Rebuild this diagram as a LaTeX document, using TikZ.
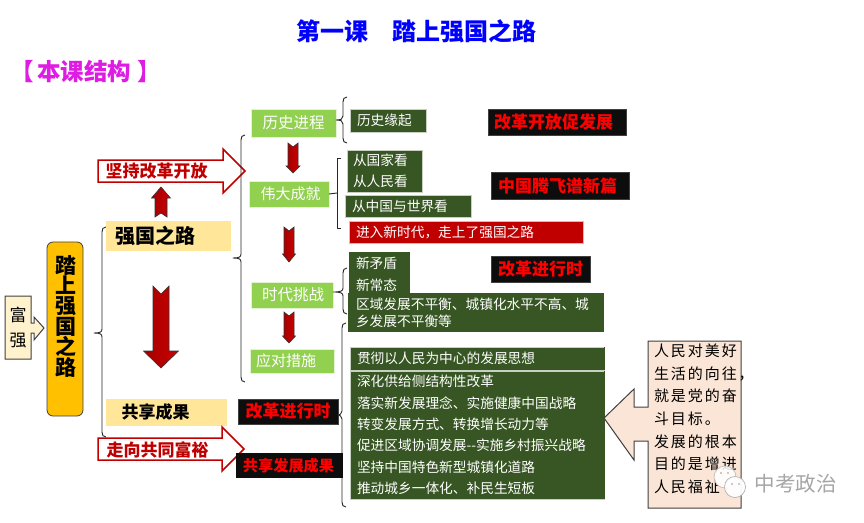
\documentclass[tikz,border=0pt]{standalone}
\usepackage{fontspec}
\setmainfont{Noto Sans CJK SC}
\definecolor{dkgreen}{HTML}{375623}
\definecolor{ltgreen}{HTML}{92D050}
\definecolor{sand}{HTML}{FFE699}
\definecolor{cream}{HTML}{FFF2CC}
\definecolor{gold}{HTML}{FFC000}
\definecolor{crimson}{HTML}{C00000}
\definecolor{peach}{HTML}{FBE5D6}
\definecolor{nearblack}{HTML}{0D0D0D}
\definecolor{edgegray}{HTML}{404040}
\definecolor{heading}{HTML}{DE1CE4}
\tikzset{
  fs/.style={font=\fontsize{#1}{22}\selectfont},
  basebox/.style={rectangle,inner ysep=0pt,outer sep=0pt,line width=0.6pt},
  darkbox/.style={basebox,fill=dkgreen,draw=white!72!dkgreen,text=white,align=left},
  greenbox/.style={basebox,fill=ltgreen,draw=white!75!ltgreen,text=white,align=center},
  sandbox/.style={basebox,fill=sand,align=center},
  labelbox/.style={basebox,fill=nearblack,draw=edgegray,text=red,align=center,line width=0.6pt},
  redbox/.style={basebox,fill=crimson,draw=white!70!crimson,text=white,align=left},
  bracket/.style={draw=black!85,line width=0.9pt,line join=round},
  outlinearrow/.style={draw=crimson,line width=1.5pt,fill=white,line join=miter},
  redarrow/.style={draw=black!80,line width=0.6pt,left color=crimson!85!black,right color=red!80!black},
  plaintext/.style={inner sep=0pt,outer sep=0pt,align=left}
}
% name, style, x1, y1, x2, y2, side padding, text
\newcommand{\areabox}[8]{%
  \pgfmathsetmacro{\bw}{#5-#3}\pgfmathsetmacro{\bh}{#6-#4}%
  \pgfmathsetmacro{\bx}{(#3+#5)/2}\pgfmathsetmacro{\by}{(#4+#6)/2}%
  \pgfmathsetmacro{\btw}{#5-#3-2*#7}%
  \node[#2,inner xsep=#7pt,text width=\btw pt,minimum height=\bh pt] (#1) at (\bx,\by) {#8};%
}
% left-opening brace: stem x, top, bottom, tip x, tip y
\newcommand{\curlybrace}[5]{%
  \draw[bracket] ({#1+4},#2) .. controls ({#1+1},#2) and (#1,{#2+2}) .. (#1,{#2+5})
    -- (#1,{#5-4}) .. controls (#1,{#5-1}) and ({#1-2},#5) .. (#4,#5)
    .. controls ({#1-2},#5) and (#1,{#5+1}) .. (#1,{#5+4})
    -- (#1,{#3-5}) .. controls (#1,{#3-2}) and ({#1+1},#3) .. ({#1+4},#3);%
}
% vertical block arrow: centre x, tail y, tip y, half shaft, half head, head start y, notch y
\newcommand{\blockarrow}[7]{%
  \draw[redarrow] ({#1-#4},#2) -- (#1,#7) -- ({#1+#4},#2) -- ({#1+#4},#6) -- ({#1+#5},#6)
    -- (#1,#3) -- ({#1-#5},#6) -- ({#1-#4},#6) -- cycle;%
}
% horizontal outlined arrow
\newcommand{\outlined}[7]{%
  \draw[outlinearrow] (#1,#3) -- (#2,#3) -- (#2,#5) -- (#7,#6) -- (#2,{2*#6-#5}) -- (#2,#4) -- (#1,#4) -- cycle;%
}
\begin{document}
\begin{tikzpicture}[x=1pt,y=-1pt]
\useasboundingbox (0,0) rectangle (864,522);
\fill[white] (0,0) rectangle (864,522);

% titles
\node[plaintext,text=blue,font=\fontsize{24}{28}\selectfont\bfseries,anchor=west] (title) at (296,31) {第一课\hspace{25pt}踏上强国之路};
\node[plaintext,text=heading,font=\fontsize{23.5}{28}\selectfont\bfseries,anchor=west] (sub) at (10,72) {【\hspace{4pt}本课结构\hspace{6pt}】};

% left chain
\draw[draw=edgegray,line width=1pt,fill=cream,line join=miter]
  (5,296) -- (31,296) -- (31,323) -- (34,323) -- (34,317) -- (44,328) -- (34,340) -- (34,333) -- (31,333) -- (31,359) -- (5,359) -- cycle;
\node[plaintext,align=center,font=\fontsize{17}{25}\selectfont] (fq) at (18,328) {富\\强};
\node[draw=edgegray,line width=0.8pt,fill=gold,rounded corners=6pt,minimum width=36pt,minimum height=174pt,inner sep=0pt,outer sep=0pt] (road) at (65,329) {};
\node[plaintext,align=center,font=\fontsize{21}{20.4}\selectfont\bfseries] (roadt) at (65.5,316) {踏\\上\\强\\国\\之\\路};

\curlybrace{102}{227}{437}{94}{333}

% mid column
\areabox{qg}{sandbox,font=\fontsize{20}{24}\selectfont\bfseries}{106}{221}{231}{251}{0}{\hspace{-26pt}强国之路}
\areabox{gx}{sandbox,font=\fontsize{17}{20}\selectfont\bfseries}{106}{399}{227}{426}{0}{\hspace{-22pt}共享成果}
\blockarrow{161}{217}{187}{6}{9.5}{198}{213}
\blockarrow{161}{286}{368}{8}{17.5}{351}{294}
\outlined{98}{223}{160}{182}{149}{171}{245}
\node[plaintext,text=crimson,font=\fontsize{17}{20}\selectfont\bfseries] (jc) at (156.5,171) {坚持改革开放};
\outlined{98}{222}{438}{460}{427}{449}{244}
\node[plaintext,text=crimson,font=\fontsize{17}{20}\selectfont\bfseries] (zx) at (157.5,450) {走向共同富裕};

\curlybrace{241}{135}{382}{233}{258}

% green stages
\areabox{g1}{greenbox,fs=15.5}{251}{109}{336}{137}{0}{历史进程}
\areabox{g2}{greenbox,fs=15}{249}{181}{329}{207}{0}{\hspace{3pt}伟大成就}
\areabox{g3}{greenbox,fs=15.5}{251}{282}{333}{308}{0}{\hspace{2pt}时代挑战}
\areabox{g4}{greenbox,fs=15}{250}{349}{334}{373}{0}{\hspace{-12pt}应对措施}
\blockarrow{293}{143}{173}{5}{7}{166}{147}
\blockarrow{289}{227}{262}{5}{6.5}{254}{231}
\blockarrow{289}{312}{343}{5}{6.5}{336}{316}

% right braces
\curlybrace{343}{97}{143}{336}{120}
\draw[bracket] (341,158) -- (337,158) -- (337,228) -- (341,228);
\coordinate (g2tip) at (337,193);
\draw[bracket] (g2.east) -- (g2tip);
\curlybrace{343}{268}{314}{333}{292}
\curlybrace{342}{323}{507}{336}{415}

% dark content boxes
\areabox{d1}{darkbox,fs=13.7}{350}{109}{426}{132}{7}{历史缘起}
\areabox{d2}{darkbox,font=\fontsize{13.7}{21.5}\selectfont}{347}{150}{422}{192}{6}{从国家看\\从人民看}
\areabox{d3}{darkbox,fs=13.7}{345}{195}{471}{217}{7}{从中国与世界看}
\areabox{d4}{redbox,fs=13.7}{349}{221}{583}{243}{7}{进入新时代，走上了强国之路}
\areabox{d5}{darkbox,font=\fontsize{13.7}{21.5}\selectfont,draw=none}{349}{252}{410}{297}{7}{新矛盾\\新常态}
\areabox{d6}{darkbox,font=\fontsize{13.7}{17}\selectfont,draw=none}{348}{293}{604}{332}{8}{区域发展不平衡、城镇化水平不高、城\\乡发展不平衡等}
\areabox{d7}{darkbox,fs=13.7}{350}{347}{604}{370}{7}{贯彻以人民为中心的发展思想}
\areabox{d8}{darkbox,font=\fontsize{13.7}{21.3}\selectfont}{350}{371}{604}{499}{7}{深化供给侧结构性改革\\落实新发展理念、实施健康中国战略\\转变发展方式、转换增长动力等\\促进区域协调发展-{}-实施乡村振兴战略\\坚持中国特色新型城镇化道路\\推动城乡一体化、补民生短板}
\draw[dkgreen,line width=0.8pt] (d7.north east) -- (d7.south east) (d8.north east) -- (d8.south east);

% black labels
\areabox{k1}{labelbox,font=\fontsize{17}{20}\selectfont\bfseries}{488}{109}{626}{135}{0}{\hspace{-7pt}改革开放促发展}
\areabox{k2}{labelbox,font=\fontsize{17}{20}\selectfont\bfseries}{491}{172}{629}{199}{0}{\hspace{-5pt}中国腾飞谱新篇}
\areabox{k3}{labelbox,font=\fontsize{17}{20}\selectfont\bfseries}{491}{256}{590}{282}{0}{改革进行时}
\areabox{k4}{labelbox,font=\fontsize{17}{20}\selectfont\bfseries}{238}{399}{338}{424}{0}{改革进行时}
\areabox{k5}{labelbox,font=\fontsize{15.2}{20}\selectfont\bfseries,draw=none}{236}{453}{343}{478}{0}{\hspace{-2pt}共享发展成果}

% callout
\draw[draw=edgegray,line width=1pt,fill=peach,line join=miter]
  (648,341) -- (741,341) -- (741,508) -- (648,508) -- (648,441) -- (634,441) -- (634,460)
  -- (604,418) -- (634,389) -- (634,407) -- (648,407) -- cycle;
\node[plaintext,anchor=north west,font=\fontsize{15}{22.6}\selectfont\addfontfeature{LetterSpace=13}] (ct) at (654,344)
  {人民对美好\\生活的向往，\\就是党的奋\\斗目标。\\发展的根本\\目的是增进\\人民福祉};

% watermark
\draw[draw=gray!50,fill=white,fill opacity=0.85,line width=0.7pt] (725,477) circle (11);
\draw[draw=gray!60,fill=white,fill opacity=0.95,line width=0.7pt] (735,487) circle (10.5);
\fill[gray!80] (721,473) circle (0.9) (728,473) circle (0.9) (732,484) circle (0.9) (739,484) circle (0.9);
\node[plaintext,text=gray!70,font=\fontsize{20.5}{24}\selectfont] (wm) at (795.5,484) {中考政治};
\end{tikzpicture}
\end{document}
